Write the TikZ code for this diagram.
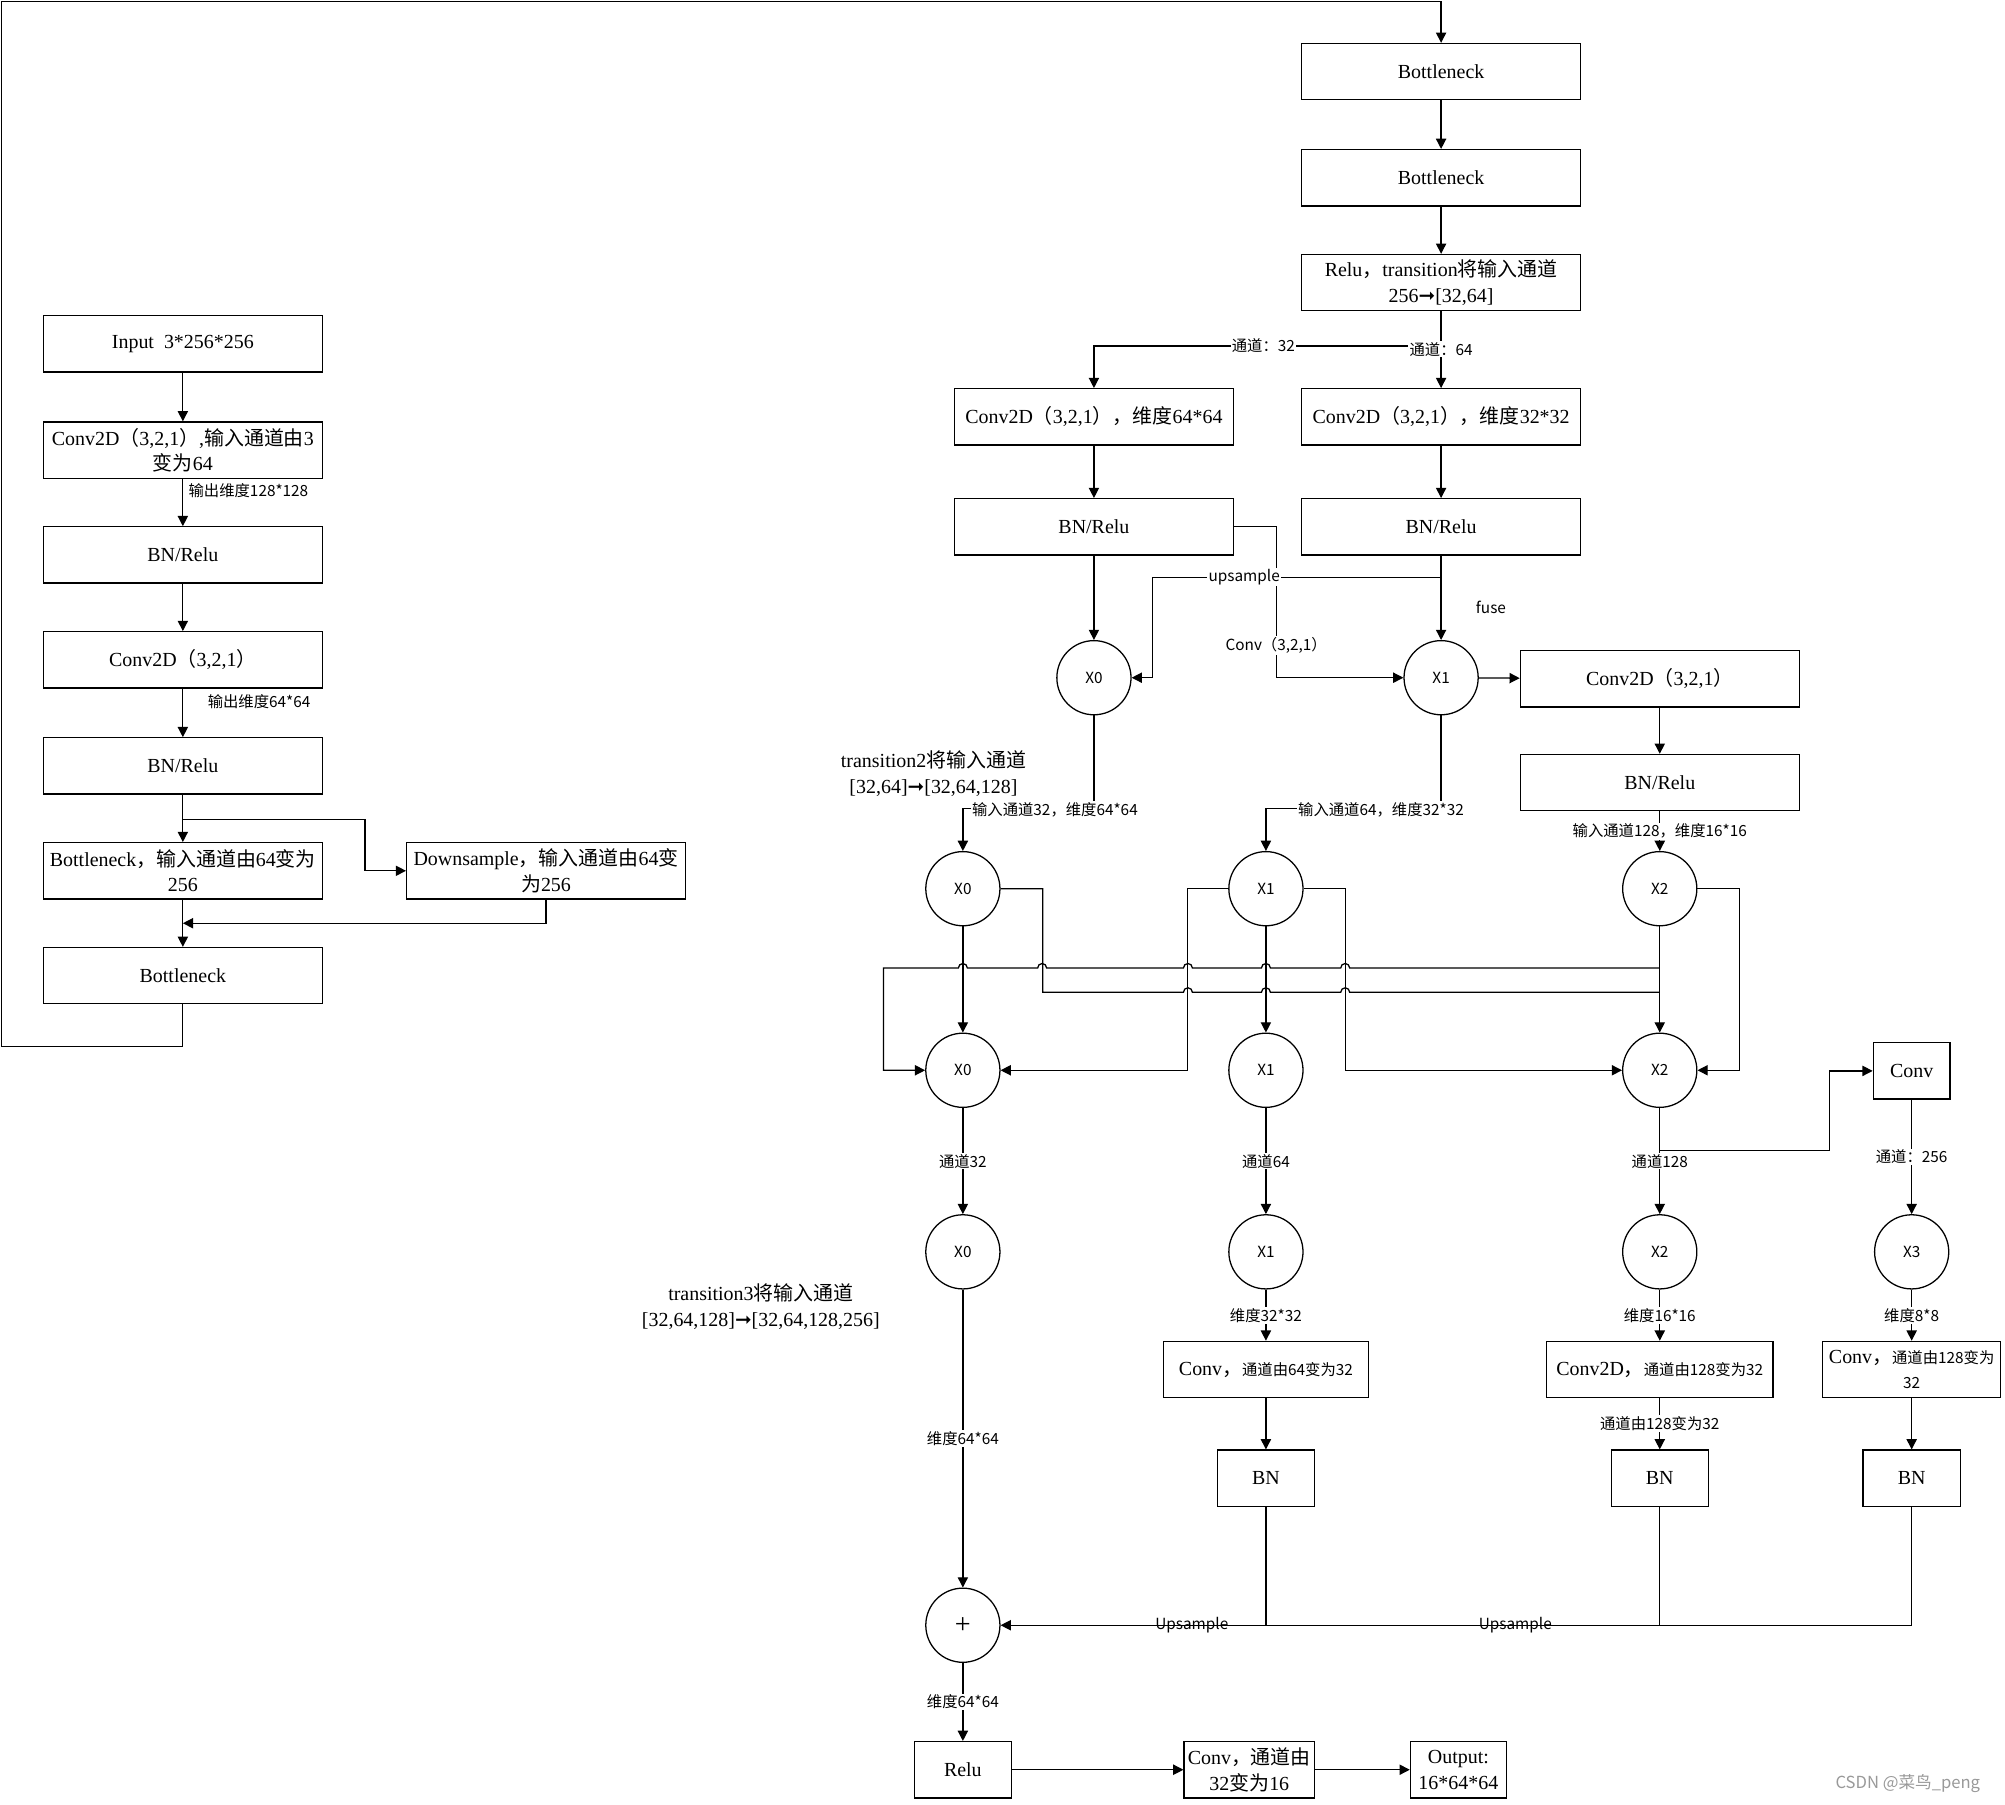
\documentclass[tikz,border=0pt]{standalone}
\usepackage{fontspec}
\setmainfont{Liberation Serif}
\newfontfamily\cjk{Noto Sans CJK SC}
\newfontfamily\djv{DejaVu Sans}
\usetikzlibrary{arrows.meta,calc}
\newcommand\zhs[1]{{\cjk #1}}
\newcommand\myboxfont{\fontsize{7.8pt}{10pt}\selectfont}
\newcommand\mylblfont{\fontsize{6pt}{7.5pt}\selectfont\cjk}
\newcommand\myarr{{\djv\char"279E}}
\begin{document}
\begin{tikzpicture}[x=0.5pt,y=-0.5pt,line width=0.5pt,
  box/.style={draw, minimum width=#1, minimum height=22pt, inner sep=1pt, align=center, font=\myboxfont},
  box/.default=109pt,
  circ/.style={draw, circle, minimum size=29pt, inner sep=0pt, font=\mylblfont},
  lbl/.style={font=\mylblfont, inner sep=0.5pt},
  wl/.style={lbl, fill=white},
  ttl/.style={font=\myboxfont, align=center},
  arr/.style={-{Triangle[length=4pt,width=4pt]}}]
\useasboundingbox (0,0) rectangle (1568,1411);

% ---------------- left column
\node[box] (in) at (143,269) {Input\enspace 3*256*256};
\node[box] (c1) at (143,352) {Conv2D\zhs{（}3,2,1\zhs{）},\zhs{输入通道由}3\\\zhs{变为}64};
\node[box] (b1) at (143,434) {BN/Relu};
\node[box] (c2) at (143,516) {Conv2D\zhs{（}3,2,1\zhs{）}};
\node[box] (b2) at (143,599) {BN/Relu};
\node[box] (bt1) at (143,681) {Bottleneck\zhs{，输入通道由}64\zhs{变为}\\256};
\node[box] (ds) at (427,681) {Downsample\zhs{，输入通道由}64\zhs{变}\\\zhs{为}256};
\node[box] (bt2) at (143,763) {Bottleneck};
\coordinate (tl) at (1,1);
\coordinate (j1) at (143,641);
\coordinate (j2) at (143,722);

% ---------------- right top
\node[box] (r1) at (1127,56) {Bottleneck};
\node[box] (r2) at (1127,139) {Bottleneck};
\node[box] (rt) at (1127,221) {Relu\zhs{，}transition\zhs{将输入通道}\\256\myarr[32,64]};
\node[box] (cA) at (855.5,326) {Conv2D\zhs{（}3,2,1\zhs{），维度}64*64};
\node[box] (cB) at (1127,326) {Conv2D\zhs{（}3,2,1\zhs{），维度}32*32};
\node[box] (bA) at (855.5,412) {BN/Relu};
\node[box] (bB) at (1127,412) {BN/Relu};
\node[circ] (x0a) at (855.5,530) {X0};
\node[circ] (x1a) at (1127,530) {X1};
\node[box] (cC) at (1298,531) {Conv2D\zhs{（}3,2,1\zhs{）}};
\node[box] (bC) at (1298,612) {BN/Relu};

% ---------------- circle rows
\node[circ] (x0b) at (753,695) {X0};
\node[circ] (x1b) at (990,695) {X1};
\node[circ] (x2b) at (1298,695) {X2};
\node[circ] (x0c) at (753,837) {X0};
\node[circ] (x1c) at (990,837) {X1};
\node[circ] (x2c) at (1298,837) {X2};
\node[box=30pt] (cv0) at (1495,837.5) {Conv};
\node[circ] (x0d) at (753,979) {X0};
\node[circ] (x1d) at (990,979) {X1};
\node[circ] (x2d) at (1298,979) {X2};
\node[circ] (x3d) at (1495,979) {X3};

% ---------------- bottom
\node[box=80pt] (k1) at (990,1071) {Conv\zhs{，}{\mylblfont 通道由64变为32}};
\node[box=88.5pt] (k2) at (1298,1071) {Conv2D\zhs{，}{\mylblfont 通道由128变为32}};
\node[box=69.5pt] (k3) at (1495,1071) {Conv\zhs{，}{\mylblfont 通道由128变为}\\{\mylblfont 32}};
\node[box=38pt] (n1) at (990,1156) {BN};
\node[box=38pt] (n2) at (1298,1156) {BN};
\node[box=38pt] (n3) at (1495,1156) {BN};
\node[circ, font=\fontsize{11pt}{12pt}\selectfont] (plus) at (753,1271) {+};
\node[box=38pt] (relu) at (753,1384) {Relu};
\node[box=51pt] (cv) at (977,1384) {Conv\zhs{，通道由}\\32\zhs{变为}16};
\node[box=37.5pt] (out) at (1140.5,1384) {Output:\\16*64*64};

% ---------------- connectors, left
\draw[arr] (in) -- (c1);
\draw[arr] (c1) -- (b1);
\draw[arr] (b1) -- (c2);
\draw[arr] (c2) -- (b2);
\draw[arr] (b2) -- (bt1);
\draw[arr] (bt1) -- (bt2);
\draw[arr] (j1) -| ($(ds.west)+(-32,0)$) -- (ds.west);
\draw[arr] (ds.south) |- (j2);
\draw[arr] (bt2.south) -- ++(0,33) -| (tl) -| (r1.north);
\node[lbl, anchor=west] (l1) at (146,384) {输出维度128*128};
\node[lbl, anchor=west] (l2) at (161,549) {输出维度64*64};

% ---------------- connectors, right top
\draw[arr] (r1) -- (r2);
\draw[arr] (r2) -- (rt);
\draw[arr] (rt.south) -- ++(0,27) -| (cA.north);
\draw[arr] (rt) -- (cB);
\draw[arr] (cA) -- (bA);
\draw[arr] (cB) -- (bB);
\draw[arr] (bA) -- (x0a);
\draw[arr] (bB) -- (x1a);
\draw[arr] (bA.east) -- ++(33,0) |- (x1a.west);
\draw[arr] ($(bB.south)+(0,17)$) -| ($(x0a.east)+(16.5,0)$) -- (x0a.east);
\draw[arr] (x1a) -- (cC);
\draw[arr] (cC) -- (bC);
\draw[arr] (x0a.south) |- ($(x0b.north)+(0,-33)$) -- (x0b.north);
\draw[arr] (x1a.south) |- ($(x1b.north)+(0,-33)$) -- (x1b.north);
\draw[arr] (bC) -- node[wl] (lin128) {输入通道128，维度16*16} (x2b);
\node[wl] (lc32) at (988,270) {通道：32};
\node[wl] (lc64) at (1127,273) {通道：64};
\node[lbl] (lfuse) at (1166,475) {fuse};
\node[wl] (lconv) at (998,505) {Conv（3,2,1）};
\node[wl] (lup) at (973,451) {upsample};
\node[wl] (lin32) at (825,633) {输入通道32，维度64*64};
\node[wl] (lin64) at (1080,633) {输入通道64，维度32*32};
\node[ttl] (t2) at (730,605) {transition2\zhs{将输入通道}\\{}[32,64]\myarr[32,64,128]};

% ---------------- row 2 -> row 3
\draw[arr] (x0b) -- (x0c);
\draw[arr] (x1b) -- (x1c);
\draw[arr] (x2b) -- (x2c);
\draw (x0b.east) -- ($(x0b.east)+(33,0)$) -- ++(0,81) -- (925.5,776)
  arc[start angle=180,end angle=360,radius=3.5] -- (986.5,776)
  arc[start angle=180,end angle=360,radius=3.5] -- (1048.5,776)
  arc[start angle=180,end angle=360,radius=3.5] -- (1298,776);
\draw[arr] (1298,757) -- (1055.5,757)
  arc[start angle=0,end angle=-180,radius=3.5] -- (993.5,757)
  arc[start angle=0,end angle=-180,radius=3.5] -- (932.5,757)
  arc[start angle=0,end angle=-180,radius=3.5] -- (818.5,757)
  arc[start angle=0,end angle=-180,radius=3.5] -- (756.5,757)
  arc[start angle=0,end angle=-180,radius=3.5] -- (691,757) |- (x0c.west);
\draw[arr] (x1b.west) -- ++(-32,0) |- (x0c.east);
\draw[arr] (x1b.east) -- ++(33,0) |- (x2c.west);
\draw[arr] (x2b.east) -- ++(33,0) |- (x2c.east);

% ---------------- row 3 -> row 4
\draw[arr] (x0c) -- node[wl] (l32) {通道32} (x0d);
\draw[arr] (x1c) -- node[wl] (l64) {通道64} (x1d);
\draw[arr] (x2c) -- node[wl] (l128) {通道128} (x2d);
\draw[arr] ($(x2c.south)+(0,33)$) -| ($(cv0.west)+(-34,0)$) -- (cv0.west);
\draw[arr] (cv0) -- node[wl] (l256) {通道：256} (x3d);
\node[ttl] (t3) at (595,1022) {transition3\zhs{将输入通道}\\{}[32,64,128]\myarr[32,64,128,256]};

% ---------------- bottom connectors
\draw[arr] (x0d) -- node[wl] (ld1) {维度64*64} (plus);
\draw[arr] (x1d) -- node[wl] (ld2) {维度32*32} (k1);
\draw[arr] (x2d) -- node[wl] (ld3) {维度16*16} (k2);
\draw[arr] (x3d) -- node[wl] (ld4) {维度8*8} (k3);
\draw[arr] (k1) -- (n1);
\draw[arr] (k2) -- node[wl] (ld5) {通道由128变为32} (n2);
\draw[arr] (k3) -- (n3);
\draw[arr] (n3.south) |- (plus.east);
\draw (n1.south) -- (n1 |- plus);
\draw (n2.south) -- (n2 |- plus);
\node[lbl] (lu1) at (932,1271) {Upsample};
\node[lbl] (lu2) at (1185,1271) {Upsample};
\draw[arr] (plus) -- node[wl] (ld6) {维度64*64} (relu);
\draw[arr] (relu) -- (cv);
\draw[arr] (cv) -- (out);

\node[font=\fontsize{6.5pt}{8pt}\selectfont\cjk, text=black!40] (wm) at (1492,1395) {CSDN @菜鸟\_peng};
\end{tikzpicture}
\end{document}
